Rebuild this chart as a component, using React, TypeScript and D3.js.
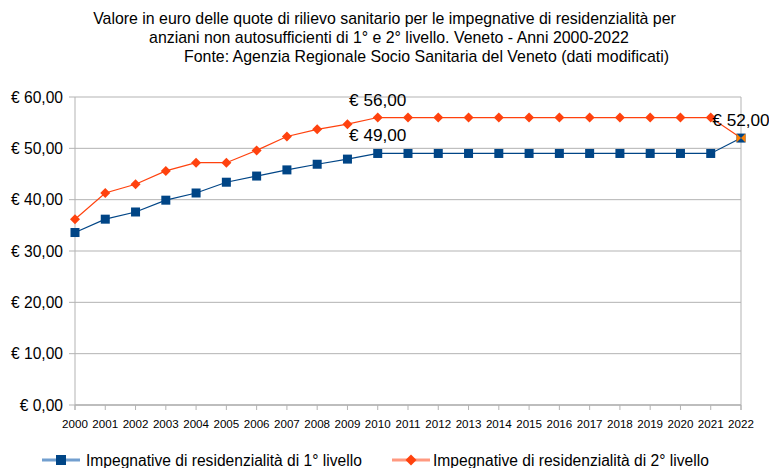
import * as d3 from 'd3';

const YEARS = ['2000', '2001', '2002', '2003', '2004', '2005', '2006', '2007', '2008', '2009', '2010', '2011',
  '2012', '2013', '2014', '2015', '2016', '2017', '2018', '2019', '2020', '2021', '2022'];
const LIVELLO_1 = [33.6, 36.2, 37.6, 39.9, 41.3, 43.4, 44.6, 45.8, 46.9, 47.9, 49, 49,
  49, 49, 49, 49, 49, 49, 49, 49, 49, 49, 52];
const LIVELLO_2 = [36.2, 41.3, 43.0, 45.6, 47.2, 47.2, 49.6, 52.3, 53.7, 54.7, 56, 56,
  56, 56, 56, 56, 56, 56, 56, 56, 56, 56, 52];
const Y_TICKS = [0, 10, 20, 30, 40, 50, 60];
const TITLE_LINES = [
  'Valore in euro delle quote di rilievo sanitario per le impegnative di residenzialità per',
  'anziani non autosufficienti di 1° e 2° livello. Veneto - Anni 2000-2022',
  'Fonte: Agenzia Regionale Socio Sanitaria del Veneto (dati modificati)',
];
// which points carry a value label
const LABELS = [
  { series: 2, year: '2010' },
  { series: 1, year: '2010' },
  { series: 1, year: '2022' },
];
const LEGEND = ['Impegnative di residenzialità di 1° livello', 'Impegnative di residenzialità di 2° livello'];

const W = 769;
const H = 468;
const BLUE = '#004586';
const ORANGE = '#ff420e';
const GRID = '#b3b3b3';
const FONT = '"Liberation Sans", Arial, sans-serif';

const fmt = (v: number) => '€ ' + d3.format('.2f')(v).replace('.', ',');

export default function App() {
  const x = d3.scalePoint<string>().domain(YEARS).range([75, 741]);
  const y = d3.scaleLinear().domain([0, 60]).range([405, 97]);

  const line = d3.line<number>()
    .x((_, i) => x(YEARS[i])!)
    .y((d) => y(d));

  const square = (cx: number, cy: number, k: string, s = 9) => (
    <rect key={k} x={cx - s / 2} y={cy - s / 2} width={s} height={s} fill={BLUE} />
  );
  const diamond = (cx: number, cy: number, k: string, s = 5) => (
    <path key={k} d={`M${cx},${cy - s}L${cx + s},${cy}L${cx},${cy + s}L${cx - s},${cy}Z`} fill={ORANGE} />
  );

  const lastX = x(YEARS[YEARS.length - 1])!;
  const lastY = y(LIVELLO_1[LIVELLO_1.length - 1]);

  return (
    <svg width={W} height={H} style={{ position: 'absolute', left: 0, top: 0, background: '#fff' }}
      fontFamily={FONT}>
      {/* title */}
      <text x={384.5} y={24} textAnchor="middle" fontSize={15.9}>{TITLE_LINES[0]}</text>
      <text x={389} y={43} textAnchor="middle" fontSize={15.9}>{TITLE_LINES[1]}</text>
      <text x={426.5} y={62} textAnchor="middle" fontSize={15.9}>{TITLE_LINES[2]}</text>

      {/* grid + y axis */}
      {Y_TICKS.map((t) => (
        <g key={t}>
          <line x1={69} x2={741} y1={y(t)} y2={y(t)} stroke={GRID} />
          <text x={63} y={y(t) + 5.6} textAnchor="end" fontSize={15.6}>{fmt(t)}</text>
        </g>
      ))}
      <line x1={75} x2={75} y1={97} y2={410} stroke={GRID} />
      <line x1={741} x2={741} y1={97} y2={410} stroke={GRID} />
      <line x1={75} x2={741} y1={405} y2={405} stroke={GRID} strokeWidth={1.5} />
      {YEARS.map((yr) => (
        <g key={yr}>
          <line x1={x(yr)} x2={x(yr)} y1={405} y2={410} stroke={GRID} />
          <text x={x(yr)} y={427.5} textAnchor="middle" fontSize={11.6}>{yr}</text>
        </g>
      ))}

      {/* series */}
      <path d={line(LIVELLO_1)!} fill="none" stroke={BLUE} strokeWidth={1.2} />
      <path d={line(LIVELLO_2)!} fill="none" stroke={ORANGE} strokeWidth={1.2} />
      {LIVELLO_1.slice(0, -1).map((v, i) => square(x(YEARS[i])!, y(v), 'a' + i))}
      {LIVELLO_2.slice(0, -1).map((v, i) => diamond(x(YEARS[i])!, y(v), 'b' + i))}
      {/* overlapping last points */}
      <rect x={lastX - 4.5} y={lastY - 4.5} width={9} height={9} fill={BLUE} />
      <path d={`M${lastX - 4.5},${lastY - 4.5}L${lastX},${lastY}L${lastX - 4.5},${lastY + 4.5}Z`} fill="#ff8000" />
      <path d={`M${lastX + 4.5},${lastY - 4.5}L${lastX},${lastY}L${lastX + 4.5},${lastY + 4.5}Z`} fill="#ff8000" />

      {/* value labels */}
      {LABELS.map((l) => {
        const vals = l.series === 1 ? LIVELLO_1 : LIVELLO_2;
        const v = vals[YEARS.indexOf(l.year)];
        return (
          <text key={l.series + l.year} x={x(l.year)} y={y(v) - 12} textAnchor="middle" fontSize={17.2}>
            {fmt(v)}
          </text>
        );
      })}

      {/* legend */}
      <line x1={42} x2={80} y1={460} y2={460} stroke="#729fcf" strokeWidth={3} />
      {square(61, 460, 'lg1', 10)}
      <text x={86} y={465.5} fontSize={15.6}>{LEGEND[0]}</text>
      <line x1={392} x2={430} y1={460} y2={460} stroke="#ff9980" strokeWidth={3} />
      {diamond(411, 460, 'lg2', 5.5)}
      <text x={433} y={465.5} fontSize={15.6}>{LEGEND[1]}</text>
    </svg>
  );
}
